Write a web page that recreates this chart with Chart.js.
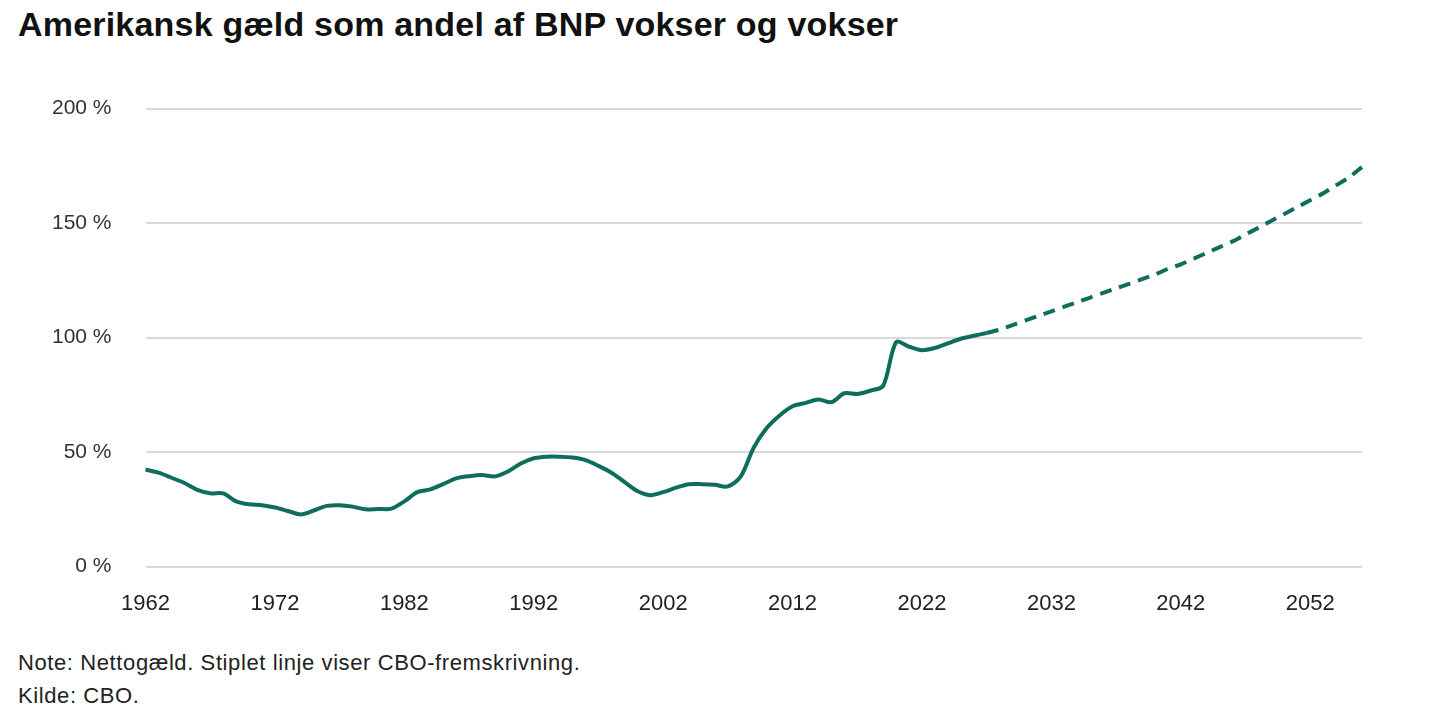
<!DOCTYPE html>
<html>
<head>
<meta charset="utf-8">
<script src="https://cdn.jsdelivr.net/npm/chart.js@4.4.1/dist/chart.umd.min.js"></script>
<style>
  body { margin: 0; background: #fff; font-family: "Liberation Sans", Arial, sans-serif; }
  #title { position: absolute; left: 18px; top: 5px; font-size: 34px; font-weight: bold; color: #111; letter-spacing: 0.2px; }
  #wrap { position: absolute; left: 0; top: 62px; width: 1440px; height: 571px; }
  .note { position: absolute; left: 18px; font-size: 22px; color: #222; letter-spacing: 0.6px; }
</style>
</head>
<body>
<div id="title">Amerikansk gæld som andel af BNP vokser og vokser</div>
<div id="wrap"><canvas id="debtChart"></canvas></div>
<div class="note" style="top:650px">Note: Nettogæld. Stiplet linje viser CBO-fremskrivning.</div>
<div class="note" style="top:683px">Kilde: CBO.</div>
<script>
const years = [];
for (let y = 1962; y <= 2056; y++) years.push(String(y));

// historical net debt, % of GDP (1962-2027)
const actual = [
  42.4, 41, 38.8, 36.5, 33.5, 32, 32, 28.5, 27.2, 26.8,
  25.8, 24.3, 22.8, 24.5, 26.5, 26.8, 26.2, 25, 25.2, 25.3,
  28.5, 32.5, 33.7, 36, 38.5, 39.5, 40, 39.4, 41.5, 45,
  47.3, 48, 48, 47.6, 46.5, 44, 41, 37, 33, 31.2,
  32.5, 34.5, 36, 36, 35.7, 35, 39.4, 52, 60.5, 66,
  70, 71.5, 73, 71.8, 75.7, 75.4, 76.8, 79, 98, 96,
  94.5, 95.5, 97.5, 99.5, 100.8, 102
];
// CBO projection (2027-2056)
const projYears = 2056 - 2027 + 1;
const projection = [
  102, 103.5, 105.5, 107.5, 109.5, 111.5, 113.5, 115.5, 117.5, 119.5,
  121.5, 123.5, 125.5, 127.5, 130, 132, 134.5, 137, 139.5, 142,
  145, 148, 151, 154, 157, 160, 163, 166.5, 170, 174.5
];
const yTicks = [0, 50, 100, 150, 200];

const actualData = years.map((y, i) => i < actual.length ? actual[i] : null);
const projData = years.map((y, i) => {
  const j = i - (actual.length - 1);
  return j >= 0 && j < projYears ? projection[j] : null;
});

const green = "#0e6e5b";

new Chart(document.getElementById("debtChart"), {
  type: "line",
  data: {
    labels: years,
    datasets: [
      { data: actualData, borderColor: green, borderWidth: 4, pointRadius: 0, tension: 0.3 },
      { data: projData, borderColor: green, borderWidth: 4, borderDash: [12, 8], pointRadius: 0, tension: 0.3 }
    ]
  },
  options: {
    responsive: true,
    maintainAspectRatio: false,
    animation: false,
    layout: { padding: { left: 18, right: 78, top: 10, bottom: 0 } },
    plugins: { legend: { display: false }, tooltip: { enabled: false } },
    scales: {
      x: {
        offset: false,
        grid: { display: false },
        border: { display: false },
        ticks: {
          autoSkip: false,
          maxRotation: 0,
          color: "#222",
          font: { size: 22, family: "Liberation Sans" },
          padding: 16,
          callback: (v, i) => (i % 10 === 0 ? years[i] : null)
        }
      },
      y: {
        min: 0,
        max: 200,
        afterBuildTicks: axis => { axis.ticks = yTicks.map(v => ({ value: v })); },
        grid: { color: "#dadada", lineWidth: 2, drawTicks: false },
        border: { display: false },
        ticks: {
          color: "#333",
          padding: 34,
          font: { size: 21, family: "Liberation Sans" },
          callback: v => v + " %"
        }
      }
    }
  }
});
</script>
</body>
</html>
